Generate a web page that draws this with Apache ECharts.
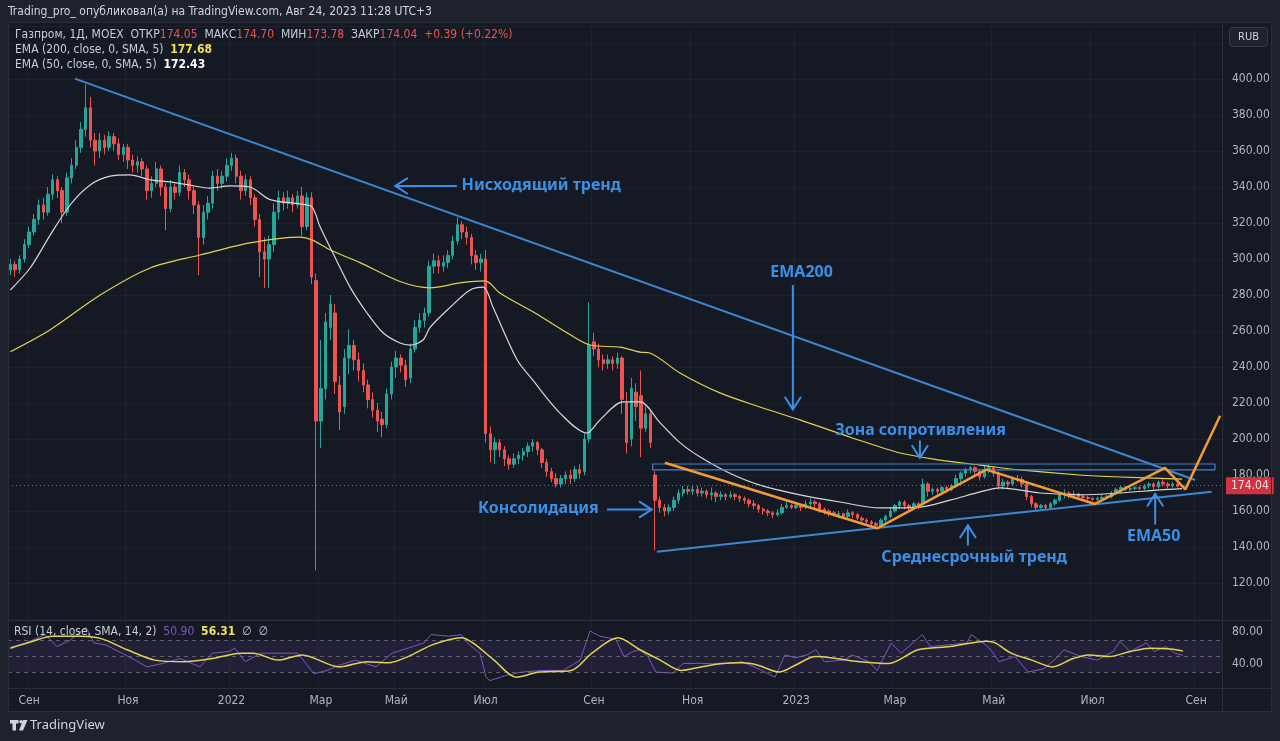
<!DOCTYPE html>
<html><head><meta charset="utf-8">
<script src="https://cdn.jsdelivr.net/npm/echarts@6/dist/echarts.min.js"></script>
<style>html,body{margin:0;padding:0;background:#1e222d;}#c{width:1280px;height:741px;}</style>
</head><body><div id="c"></div>
<script>
// ---- candles: [open, close, low, high], one candle = 2 trading days ----
const ohlc = [
[294,297,291,300],[297,294,290,299],[294,300,292,302],[300,308,298,311],[308,315,306,318],
[315,322,313,325],[322,330,319,333],[330,326,322,334],[326,336,324,340],[336,344,333,347],
[344,338,334,346],[338,326,320,340],[326,345,324,348],[345,352,342,356],[352,362,350,366],
[362,372,359,376],[372,384,368,397],[384,366,362,390],[366,360,352,370],[360,366,356,370],
[366,362,358,369],[362,368,360,371],[368,364,360,370],[364,358,355,367],[358,362,354,364],
[362,355,350,364],[355,352,348,358],[352,354,348,357],[354,350,346,356],[350,338,333,352],
[338,342,334,346],[342,350,340,354],[350,340,335,352],[340,328,316,342],[328,340,326,344],
[340,337,333,342],[337,348,335,352],[348,344,340,350],[344,338,333,347],[338,330,325,340],
[330,312,291,332],[312,326,308,330],[326,331,322,335],[331,346,328,349],[346,342,338,350],
[342,346,339,349],[346,352,343,356],[352,356,349,359],[356,346,342,358],[346,338,333,349],
[338,344,335,347],[344,334,330,346],[334,322,318,336],[322,304,290,325],[304,300,284,312],
[300,308,284,313],[308,326,304,331],[326,334,322,338],[334,331,327,337],[331,334,328,338],
[334,330,326,336],[330,335,328,338],[335,318,313,340],[318,334,316,337],[334,290,286,337],
[288,210,127,292],[210,228,195,255],[228,265,222,270],[262,275,255,280],[270,232,225,275],
[230,215,205,235],[218,245,214,250],[245,252,236,261],[252,244,238,255],[244,238,232,248],
[238,230,226,242],[230,222,217,233],[222,216,212,226],[216,210,204,220],[211,208,201,215],
[208,225,206,228],[225,240,222,243],[240,245,234,249],[245,241,237,247],[241,233,229,244],
[234,250,231,253],[250,262,248,266],[262,266,259,270],[266,270,262,273],[270,296,268,299],
[296,299,292,303],[299,296,292,302],[296,298,293,302],[298,302,295,305],[302,310,300,313],
[310,319,308,323],[319,315,311,321],[315,312,308,318],[312,302,297,314],[302,298,294,305],
[298,300,293,303],[300,203,198,305],
[203,194,187,207],[194,198,186,201],[198,194,190,200],[194,189,185,196],[189,186,183,191],
[186,189,184,192],[189,191,186,193],[191,193,188,195],[193,196,190,198],[196,198,193,200],
[198,194,191,199],[194,187,184,195],[187,182,179,189],[182,178,176,184],[178,175,173,181],
[175,178,173,180],[178,180,175,182],[180,178,175,183],[178,183,176,185],[183,181,178,186],
[182,200,180,203],[200,252,198,276],
[254,250,246,259],[250,244,240,253],[244,242,238,247],[242,244,239,247],[244,242,238,246],
[242,245,239,248],[245,222,214,246],[220,198,192,226],[200,228,196,234],[226,218,210,231],
[224,206,190,238],[206,214,204,218],[214,198,195,216],
[180,166,138,182],[166,162,159,168],[162,160,157,164],[160,162,158,164],[162,166,160,168],
[166,170,164,172],[170,172,168,174],[172,171,169,174],[171,172,169,174],[172,170,168,174],
[170,171,168,173],[171,169,167,172],[169,170,166,173],[170,168,165,171],[168,169,166,171],
[169,168,166,170],[168,169,167,171],[169,168,166,170],[168,167,165,169],[167,166,164,168],
[166,164,162,167],[164,163,161,166],[163,161,159,164],[161,160,158,162],[160,159,157,161],
[159,158,156,160],[158,159,157,161],[159,162,158,164],[162,163,161,165],[163,162,161,164],
[162,163,161,165],[163,162,160,164],[162,164,161,166],[164,165,162,167],[165,164,162,166],
[164,161,159,165],[161,160,158,162],[160,159,157,161],[159,158,157,160],[158,158.5,156,160],
[158.5,157,156,159],[157,159,156,161],[159,158,156,160],[158,156,155,159],[156,155,154,157],
[155,154,153,156],[154,153,151,155],[153,152,150.5,154],[152,155,151,156],[155,157,154,158],
[157,160,156,162],[160,163,159,164],[163,165,161,166],[165,163,161,166],[163,162,160,164],
[162,164,161,165],[164,163,161,165],
[164,175,163,178],[175,171,168,176],[171,172,169,173],[172,171,169,173],[171,173,170,174],
[173,172,170,174],[172,174,171,175],[174,178,173,180],[178,181,176,182],[181,183,179,184],
[183,184,181,185],[184,182,180,185],[182,179,177,183],[179,183,178,185],[183,184,181,186],
[184,181,179,185],[181,174,172,182],[174,176,172,178],[176,175,173,177],[175,178,174,179],
[178,177.5,176,180],[177.5,175,173,179],[175,168,166,176],[168,164,162,169],[164,162,160,165],
[162,163,161,164],[163,162,161,164],[162,164,161,165],[164,166,163,167],[166,169,165,170],
[169,170,167,172],[170,169,167,171],[169,169.5,168,171],[169.5,168,167,170],[168,167.5,166,169],
[167.5,167,166,168.5],[167,166.5,165.5,168],[166.5,167,165.5,168],[167,167.5,166,169],[167.5,168,166.5,169],
[168,170,167,171],[170,172,169,173],[172,173,170,174],[173,172,171,174],[172,172.5,171,173.5],
[172.5,173,171.5,174],[173,172.5,171.5,174],[172.5,174,171.5,175],[174,175,172.5,176],[175,173.5,172,176],
[173.5,176,172.5,177],[176,175,173.5,177.5],[175,174,172.5,176],[174,175,173,176],[175,173.7,173,175.5],
[174.05,174.04,173.78,174.70]
];
const futureSlots = 8;

// ---- indicators: [candle index, value] ----
const ema200 = [[0,248.5],[8.4,260.6],[19.1,280],[29.7,295],[40.3,302.2],[50.9,309],[61.6,312.2],[64.1,310.6],
[68,305],[74.3,298],[82.8,287.5],[89.2,284],[95.6,286.7],[100.9,287.8],[104.1,281],[111.5,270],[118.3,259],
[123.2,252.2],[129.6,251],[133.8,248.3],[135.9,247.8],[142.3,236.7],[150.8,225.6],[159.3,217.8],[167.8,210.6],
[178.5,201],[189.1,192.2],[197.6,188.3],[206.1,185.5],[214.6,182.8],[227.3,180],[235.8,178.9],[249,177.7]];
const ema50 = [[0,282.8],[4.2,295],[8.4,313],[12.7,330],[16.9,341],[21.2,346],[25.4,346.7],[29.7,344],
[33.9,342.8],[38.2,341],[42.4,339.4],[46.7,340.6],[50.9,340],[55.2,333],[61.6,330.6],[64.1,329],[65.8,318],
[68.6,303],[72.2,284.4],[75.8,270],[79.2,259],[82.8,253.3],[85,252.2],[87.7,255],[89.2,262],[93.4,273],
[97.7,282.8],[100.5,284.4],[102.6,273],[107.7,244],[111,232.8],[116.8,214.4],[122.5,203.3],[125.3,210.6],
[130.2,220.6],[133.8,220.6],[138.1,209],[142.3,198],[146.6,190],[152.9,181],[159.3,174.4],[167.8,169],
[176.3,165],[184.8,161.7],[193.3,162.2],[199.7,166],[206.1,170.6],[210.3,172.8],[218.8,170],[227.3,169],
[235.8,170],[244.3,171.7],[249,172.4]];
const rsi = [[0,61],[3.1,66],[7.4,77],[9.9,62],[12.7,70],[16.1,86],[17.8,66.6],[20.3,64],[23.7,53.7],
[26.5,45],[29,36.5],[32.4,40.8],[36.1,47],[40.3,36.5],[42.9,53.7],[46.5,55.8],[47.7,60],[49.9,43],
[53.3,53.7],[56.9,53.7],[61.1,53.7],[64.5,28],[67.3,32],[69.9,38.6],[73.3,45],[77.7,36.5],[81.1,53.7],
[84.5,60],[87.9,66.6],[89.4,77],[93.2,75],[95.8,77],[97.5,64.4],[99.8,53.7],[101.1,23.6],[101.9,19.3],
[105.3,25.7],[108.7,30],[113.2,32],[117.5,32],[121.1,45],[123.2,81.6],[125.3,75],[128.7,71],[130.4,49.4],
[132.3,55.8],[133.8,58],[135.5,49.4],[137.2,30],[140.8,28.7],[143,40.8],[146.6,41],[150.8,40],[155.5,43],
[158.9,34.3],[162.5,23.6],[164.6,51.5],[166.8,48],[169.3,51.5],[171.2,58],[173,43],[177.2,45],[178.9,51.5],
[182.5,43],[184.2,32],[187.2,66.6],[189.3,53.7],[193.8,77],[195.5,62],[199.7,64.4],[203.3,66.6],[204.2,77],
[206.7,66.6],[208.4,58],[210.1,43],[213.5,49.4],[216.3,30],[219.7,34.3],[222.2,47],[223.9,58],[227.6,49.4],
[231,45],[234.4,55.8],[235.8,68.7],[238,55.8],[241.4,66.6],[243.1,55.8],[245.6,62],[247.5,53.7],[249.2,50.9]];
const rsiSma = [[0,60],[4.8,68.7],[9,75],[15.2,75],[19.5,71.7],[24.8,58],[30.7,45],[36.9,43],[42.9,47],
[49,53.7],[51.6,53.7],[56.9,45],[62,51.5],[69.9,36.5],[75.8,43],[80.3,41.6],[84.5,49.4],[89.8,64.4],
[95.8,73],[98.3,66.6],[102.8,45],[107.5,23.6],[112.4,30],[119.2,32],[123.6,53.7],[129.1,73],[133.8,58],
[138.1,45],[142.5,32],[146.8,36.5],[151.3,40.8],[155.5,41.6],[158.9,38.6],[163.4,30],[166.8,38.6],
[171.2,49.4],[175.5,47],[180.6,43],[186.7,40.8],[192.9,58],[199.7,62],[207.6,68.7],[209.3,66.6],
[212.7,53.7],[217.1,45],[221.4,36.5],[225.9,47],[229.2,51.5],[233.5,49.4],[238,55.8],[242.2,60],
[246.7,59],[249.2,56.3]];
const rsiLevels = [30, 50, 70];

// ---- tick labels ----
const monthTicks = {4:'Сен',25:'Ноя',47:'2022',66:'Мар',82:'Май',101:'Июл',124:'Сен',145:'Ноя',167:'2023',188:'Мар',209:'Май',230:'Июл',252:'Сен'};
const priceLabelRange = [120, 400];
const rsiLabels = [40, 80];
const lastPrice = 174.04;

// ---- drawings (candle index, price) ----
const trendDown = [[13.7,400.2],[251.8,177.2]];
const trendUp = [[137.4,137.4],[255.3,170.7]];
const orangePath = [[139.1,186.8],[184.2,150.4],[207.4,183],[230.5,163.9],[245.4,184],[249.7,172],[257.1,212.9]];
const zoneRect = [[136.5,182.8],[256.0,186.1]];
const arrows = [[94.9,340.6,81.8,340.6],[166.3,285.5,166.3,216.5],[193.3,199.2,193.3,189.5],
[126.8,160.8,136.3,160.8],[203.5,140.8,203.5,152.0],[243.3,152.5,243.3,169.5]];
const labels = [['Нисходящий тренд',95.9,340.6],['EMA200',161.5,292.8],['Зона сопротивления',175.3,205],
['Консолидация',99.4,161.7],['Среднесрочный тренд',185.1,134.4],['EMA50',237.3,146.1]];

const NC = ohlc.length + futureSlots;
const cats = Array.from({length: NC}, (_, i) => String(i));
const NARROW = '"Liberation Sans Narrow","DejaVu Sans Condensed","Liberation Sans",sans-serif';
const BLUE = '#3d86d1', TBLUE = '#3b90e6', ORANGE = '#f29b34';
const isTick = (i) => monthTicks[i] !== undefined;
const rectPts = [[zoneRect[0][0],zoneRect[0][1]],[zoneRect[1][0],zoneRect[0][1]],[zoneRect[1][0],zoneRect[1][1]],[zoneRect[0][0],zoneRect[1][1]],[zoneRect[0][0],zoneRect[0][1]]];

const chart = echarts.init(document.getElementById('c'));
const gridLine = {show:true, lineStyle:{color:'#1d2130', width:1}};
const plainLine = (data, color, width, z, smooth) => ({type:'line', xAxisIndex:2, yAxisIndex:0, data, showSymbol:false, symbol:'none',
  smooth: smooth || false, lineStyle:{color, width}, z: z||5, silent:true, animation:false});

chart.setOption({
  animation:false,
  backgroundColor:'#151924',
  grid:[{left:8, top:26, width:1214, height:593},{left:8, top:621, width:1214, height:67}],
  xAxis:[
    {type:'category', gridIndex:0, data:cats, axisLine:{show:false}, axisTick:{show:false}, axisLabel:{show:false},
     splitLine:Object.assign({interval:(i)=>isTick(i)}, gridLine)},
    {type:'category', gridIndex:1, data:cats, axisLine:{show:false}, axisTick:{show:false},
     axisLabel:{interval:(i)=>isTick(i), formatter:(v,i)=>monthTicks[i]||'', color:'#b2b5be', fontSize:12, fontFamily:NARROW, margin:7},
     splitLine:Object.assign({interval:(i)=>isTick(i)}, gridLine)},
    {type:'value', gridIndex:0, min:-0.5, max:NC-0.5, show:false},
    {type:'value', gridIndex:1, min:-0.5, max:NC-0.5, show:false}
  ],
  yAxis:[
    {type:'value', gridIndex:0, position:'right', min:100, max:100+593/1.8, interval:20, scale:true,
     axisLine:{show:false}, axisTick:{show:false}, splitLine:gridLine,
     axisLabel:{color:'#b2b5be', fontSize:12, fontFamily:NARROW, margin:10,
       formatter:(v)=> (v>=priceLabelRange[0]-0.01 && v<=priceLabelRange[1]+0.01 && Math.abs(v%20)<0.01) ? v.toFixed(2) : ''}},
    {type:'value', gridIndex:1, position:'right', min:10, max:94.1, interval:10,
     axisLine:{show:false}, axisTick:{show:false}, splitLine:{show:false},
     axisLabel:{color:'#b2b5be', fontSize:12, fontFamily:NARROW, margin:10,
       formatter:(v)=> rsiLabels.indexOf(Math.round(v))>=0 && Math.abs(v-Math.round(v))<0.01 ? v.toFixed(2) : ''}}
  ],
  series:[
    {type:'candlestick', xAxisIndex:0, yAxisIndex:0, data:ohlc, barWidth:'62%', z:3,
     itemStyle:{color:'#26a69a', color0:'#ef5350', borderColor:'#26a69a', borderColor0:'#ef5350', borderWidth:1},
     markLine:{silent:true, symbol:'none', data:[{yAxis:lastPrice}],
       lineStyle:{color:'#ef5350', type:[1,3], width:1, opacity:0.85},
       label:{show:true, position:'end', formatter:lastPrice.toFixed(2), color:'#fff', backgroundColor:'#f23645',
         padding:[3,5,2,5], fontSize:12, fontFamily:NARROW, distance:4}}},
    plainLine(ema200, '#e3d34e', 1.2, 4, 0.3),
    plainLine(ema50, '#d8d8d8', 1.2, 4, 0.3),
    plainLine(trendDown, BLUE, 2, 6),
    plainLine(trendUp, BLUE, 2, 6),
    plainLine(rectPts, BLUE, 1.2, 6),
    plainLine(orangePath, ORANGE, 2.5, 7),
    {type:'custom', xAxisIndex:2, yAxisIndex:0, data:arrows, z:8, silent:true,
     renderItem:(params, api)=>{
       const p1 = api.coord([api.value(0), api.value(1)]);
       const p2 = api.coord([api.value(2), api.value(3)]);
       const ang = Math.atan2(p2[1]-p1[1], p2[0]-p1[0]);
       const L = 15, a = Math.PI/5.5;
       const h1 = [p2[0]-L*Math.cos(ang-a), p2[1]-L*Math.sin(ang-a)];
       const h2 = [p2[0]-L*Math.cos(ang+a), p2[1]-L*Math.sin(ang+a)];
       return {type:'group', children:[
         {type:'line', shape:{x1:p1[0],y1:p1[1],x2:p2[0],y2:p2[1]}, style:{stroke:TBLUE, lineWidth:2}},
         {type:'polyline', shape:{points:[h1,p2,h2]}, style:{stroke:TBLUE, lineWidth:2, fill:null}}
       ]};
     }},
    {type:'custom', xAxisIndex:2, yAxisIndex:0, data:labels.map(l=>[l[1], l[2]]), z:9, silent:true,
     renderItem:(params, api)=>{
       const p = api.coord([api.value(0), api.value(1)]);
       return {type:'text', x:p[0], y:p[1], style:{text:labels[params.dataIndex][0], fill:TBLUE,
         fontSize:16, fontWeight:'bold', fontFamily:'"Noto Sans",sans-serif', verticalAlign:'middle', align:'left'}};
     }},
    {type:'line', xAxisIndex:3, yAxisIndex:1, data:rsi, showSymbol:false, symbol:'none', lineStyle:{color:'#7e57c2', width:1}, z:4,
     markArea:{silent:true, itemStyle:{color:'rgba(126,87,194,0.12)'}, data:[[{yAxis:rsiLevels[0]},{yAxis:rsiLevels[2]}]]},
     markLine:{silent:true, symbol:'none', label:{show:false}, lineStyle:{color:'#787b86', type:[4,4], width:1, opacity:0.7},
       data:rsiLevels.map(v=>({yAxis:v}))}},
    {type:'line', xAxisIndex:3, yAxisIndex:1, data:rsiSma, smooth:0.3, showSymbol:false, symbol:'none', lineStyle:{color:'#e3d34e', width:1.5}, z:5}
  ],
  graphic:[
    {type:'rect', z:-1, silent:true, shape:{x:0,y:0,width:1280,height:22}, style:{fill:'#1e222d'}},
    {type:'rect', z:-1, silent:true, shape:{x:0,y:712,width:1280,height:29}, style:{fill:'#1e222d'}},
    {type:'rect', z:-1, silent:true, shape:{x:0,y:0,width:8,height:741}, style:{fill:'#1e222d'}},
    {type:'rect', z:-1, silent:true, shape:{x:1272,y:0,width:8,height:741}, style:{fill:'#1e222d'}},
    {type:'rect', z:50, silent:true, shape:{x:8.5,y:22.5,width:1263,height:689}, style:{fill:null, stroke:'#2a2e39', lineWidth:1}},
    {type:'line', z:50, silent:true, shape:{x1:1222.5,y1:22,x2:1222.5,y2:712}, style:{stroke:'#2a2e39', lineWidth:1}},
    {type:'line', z:50, silent:true, shape:{x1:8,y1:620.5,x2:1272,y2:620.5}, style:{stroke:'#2a2e39', lineWidth:1}},
    {type:'line', z:50, silent:true, shape:{x1:8,y1:688.5,x2:1272,y2:688.5}, style:{stroke:'#2a2e39', lineWidth:1}},
    {type:'text', z:60, silent:true, x:8, y:12, style:{text:'Trading_pro_ опубликовал(а) на TradingView.com, Авг 24, 2023 11:28 UTC+3', fill:'#d1d4dc', fontSize:12, fontFamily:NARROW, verticalAlign:'middle'}},
    {type:'text', z:60, silent:true, x:15, y:35, style:{
      text:'{l|Газпром, 1Д, MOEX  ОТКР}{r|174.05}{l|  МАКС}{r|174.70}{l|  МИН}{r|173.78}{l|  ЗАКР}{r|174.04  +0.39 (+0.22%)}',
      verticalAlign:'middle', rich:{l:{fill:'#c9ccd4', fontSize:12, fontFamily:NARROW}, r:{fill:'#ef5350', fontSize:12, fontFamily:NARROW}}}},
    {type:'text', z:60, silent:true, x:15, y:50, style:{text:'{l|EMA (200, close, 0, SMA, 5)  }{y|177.68}', verticalAlign:'middle',
      rich:{l:{fill:'#c9ccd4', fontSize:12, fontFamily:NARROW}, y:{fill:'#f0e05a', fontSize:12, fontWeight:'bold', fontFamily:NARROW}}}},
    {type:'text', z:60, silent:true, x:15, y:65, style:{text:'{l|EMA (50, close, 0, SMA, 5)  }{w|172.43}', verticalAlign:'middle',
      rich:{l:{fill:'#c9ccd4', fontSize:12, fontFamily:NARROW}, w:{fill:'#ffffff', fontSize:12, fontWeight:'bold', fontFamily:NARROW}}}},
    {type:'text', z:60, silent:true, x:14, y:632, style:{text:'{l|RSI (14, close, SMA, 14, 2)  }{p|50.90}{l|  }{y|56.31}{l|  ∅  ∅}', verticalAlign:'middle',
      rich:{l:{fill:'#c9ccd4', fontSize:12, fontFamily:NARROW}, p:{fill:'#7e57c2', fontSize:12, fontFamily:NARROW}, y:{fill:'#f0e05a', fontSize:12, fontWeight:'bold', fontFamily:NARROW}}}},
    {type:'rect', z:60, silent:true, shape:{x:1229.5,y:27.5,width:38,height:19,r:3}, style:{fill:'#1e222d', stroke:'#363a45', lineWidth:1}},
    {type:'text', z:61, silent:true, x:1248.5, y:37, style:{text:'RUB', fill:'#d1d4dc', fontSize:11, fontFamily:NARROW, align:'center', verticalAlign:'middle'}},
    {type:'polygon', z:60, silent:true, shape:{points:[[10,720],[18.5,720],[18.5,723.5],[16,723.5],[16,730.5],[12.5,730.5],[12.5,723.5],[10,723.5]]}, style:{fill:'#d1d4dc'}},
    {type:'circle', z:60, silent:true, shape:{cx:21,cy:721.8,r:1.8}, style:{fill:'#d1d4dc'}},
    {type:'polygon', z:60, silent:true, shape:{points:[[23,720],[27.5,720],[23,730.5],[19,730.5]]}, style:{fill:'#d1d4dc'}},
    {type:'text', z:60, silent:true, x:30, y:725.5, style:{text:'TradingView', fill:'#d1d4dc', fontSize:13, fontFamily:'"Noto Sans",sans-serif', verticalAlign:'middle'}}
  ]
});
</script>
</body></html>
